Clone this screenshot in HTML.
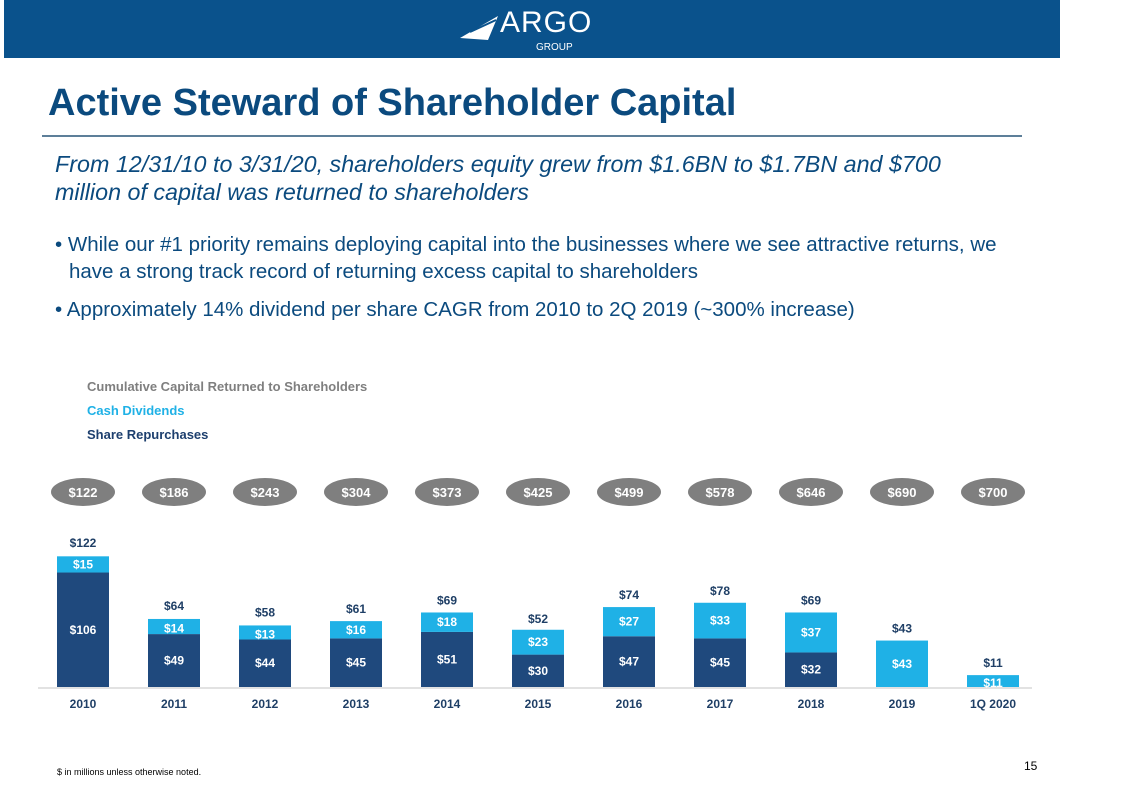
<!DOCTYPE html>
<html><head><meta charset="utf-8"><style>
body{margin:0;width:1121px;height:789px;background:#fff;font-family:"Liberation Sans",sans-serif;position:relative;overflow:hidden}
.abs{position:absolute}
</style></head><body>
<div class="abs" style="left:4px;top:0;width:1056px;height:58px;background:#0a528c"></div>
<div class="abs" style="left:458px;top:4px;width:160px;height:52px;color:#fff">
  <svg width="50" height="36" style="position:absolute;left:0;top:6px"><polygon points="2,28 40,6 30,30" fill="#fff"/><line x1="12" y1="22" x2="38" y2="10" stroke="#0a528c" stroke-width="2"/></svg>
  <span style="position:absolute;left:42px;top:2px;font-size:30px;letter-spacing:1px">ARGO</span>
  <span style="position:absolute;left:78px;top:38px;font-size:10px">GROUP</span>
</div>
<div class="abs" style="left:48px;top:82px;font-size:38px;font-weight:bold;color:#0b4a7e">Active Steward of Shareholder Capital</div>
<div class="abs" style="left:42px;top:135px;width:980px;height:2px;background:#5d7f99"></div>
<div class="abs" style="left:55px;top:150px;width:925px;font-size:23.3px;font-style:italic;color:#0b4a7e;line-height:28px">From 12/31/10 to 3/31/20, shareholders equity grew from $1.6BN to $1.7BN and $700 million of capital was returned to shareholders</div>
<div class="abs" style="left:55px;top:231px;width:965px;font-size:20.5px;color:#0b4a7e;line-height:27px;padding-left:14px;text-indent:-14px">• While our #1 priority remains deploying capital into the businesses where we see attractive returns, we have a strong track record of returning excess capital to shareholders</div>
<div class="abs" style="left:55px;top:298px;font-size:20.5px;color:#0b4a7e">• Approximately 14% dividend per share CAGR from 2010 to 2Q 2019 (~300% increase)</div>
<div class="abs" style="left:87px;top:379px;font-size:13px;font-weight:bold;color:#7f7f7f">Cumulative Capital Returned to Shareholders</div>
<div class="abs" style="left:87px;top:403px;font-size:13px;font-weight:bold;color:#1fb1e6">Cash Dividends</div>
<div class="abs" style="left:87px;top:427px;font-size:13px;font-weight:bold;color:#1d3f6e">Share Repurchases</div>
<svg class="abs" style="left:0;top:0" width="1121" height="789" id="chart"></svg>
<div class="abs" style="left:57px;top:767px;font-size:9px;color:#000">$ in millions unless otherwise noted.</div>
<div class="abs" style="left:1024px;top:759px;font-size:12px;color:#000">15</div>
<script>
const categories=["2010","2011","2012","2013","2014","2015","2016","2017","2018","2019","1Q 2020"];
const repurchases=[106,49,44,45,51,30,47,45,32,0,0];
const dividends=[15,14,13,16,18,23,27,33,37,43,11];
const totals=[122,64,58,61,69,52,74,78,69,43,11];
const cumulative=[122,186,243,304,373,425,499,578,646,690,700];
const svg=document.getElementById('chart');
const NS='http://www.w3.org/2000/svg';
const x0=83,step=91,base=687,k=1.08,bw=52;
const xs=i=>x0+i*step, ys=v=>base-v*k;
function mk(t,a){const e=document.createElementNS(NS,t);for(const n in a)e.setAttribute(n,a[n]);svg.appendChild(e);return e;}
function txt(x,y,s,fill,size){const e=mk('text',{x:x,y:y,'text-anchor':'middle','font-size':size||12,'font-weight':'bold',fill:fill,'font-family':'Liberation Sans, sans-serif'});e.textContent=s;return e;}
const ax=mk('line',{x1:38,x2:1032,y1:base+1,y2:base+1,stroke:'#d9d9d9','stroke-width':1.5});


categories.forEach((c,i)=>{
  const x=xs(i);
  const r=repurchases[i],d=dividends[i];
  if(r>0){const b=mk('rect',{x:x-bw/2,y:ys(r),width:bw,height:r*k,fill:'#1f497d'});
    
    
    txt(x,(ys(r)+base)/2+4,'$'+r,'#fff');}
  const bd=mk('rect',{x:x-bw/2,y:ys(r+d),width:bw,height:d*k,fill:'#1fb1e6'});
  
  
  txt(x,(ys(r+d)+ys(r))/2+4+(d<15?2:0),'$'+d,'#fff');
  txt(x,ys(totals[i])-8,'$'+totals[i],'#1f3f66');
  const el=mk('ellipse',{cx:x,cy:492,rx:32,ry:14,fill:'#7f7f7f'});
  
  
  txt(x,497,'$'+cumulative[i],'#fff',13);
  const t=txt(x,708,c,'#1f3f66');
  
  
});
</script>
</body></html>
